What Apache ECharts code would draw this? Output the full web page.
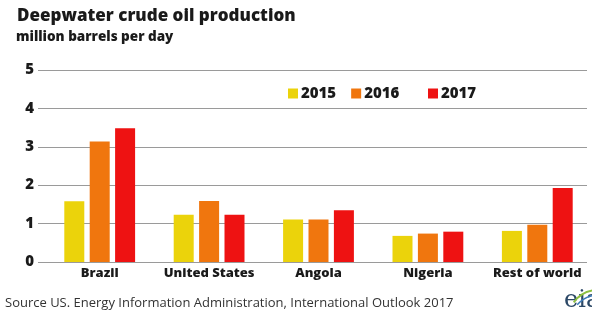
<!DOCTYPE html>
<html><head><meta charset="utf-8">
<script src="https://cdn.jsdelivr.net/npm/echarts@6/dist/echarts.min.js"></script>
<style>html,body{margin:0;padding:0;background:#fff}#c{width:592px;height:320px}</style>
</head><body><div id="c"></div>
<script>
const categories = ['Brazil', 'United States', 'Angola', 'Nigeria', 'Rest of world'];
const years = ['2015', '2016', '2017'];
const values2015 = [1.58, 1.23, 1.11, 0.68, 0.81];
const values2016 = [3.14, 1.59, 1.11, 0.74, 0.97];
const values2017 = [3.48, 1.23, 1.35, 0.79, 1.93];
const yTicks = [0, 1, 2, 3, 4, 5];
const colors = ['#ebd30b', '#f0760e', '#ee1212'];
const FONT = '"Open Sans", Lato, sans-serif';

const chart = echarts.init(document.getElementById('c'), null, {renderer: 'canvas'});
const seriesData = [values2015, values2016, values2017];
const legendText = {fontFamily: FONT, fontWeight: 800, fontSize: 15, color: '#1a1a1a', padding: [0,0,0,-2]};
chart.setOption({
  animation: false,
  backgroundColor: '#fff',
  title: [
    {text: 'Deepwater crude oil production', left: 12, top: 3,
     textStyle: {fontFamily: FONT, fontWeight: 800, fontSize: 17, color: '#1a1a1a'}},
    {text: 'million barrels per day', left: 11, top: 25,
     textStyle: {fontFamily: FONT, fontWeight: 800, fontSize: 13.5, color: '#1a1a1a'}},
    {text: 'Source US. Energy Information Administration, International Outlook 2017', left: 0, top: 292,
     textStyle: {fontFamily: FONT, fontWeight: 'normal', fontSize: 13, color: '#333'}}
  ],
  legend: [
    {data: ['2015', '2016'], left: 283, top: 81, itemWidth: 10, itemHeight: 10, itemGap: 15,
     icon: 'rect', textStyle: legendText},
    {data: ['2017'], left: 423, top: 81, itemWidth: 10, itemHeight: 10,
     icon: 'rect', textStyle: legendText}
  ],
  grid: [
    {left: 38, right: 5, top: 70, bottom: 58},
    {left: 45, right: -3, top: 70, bottom: 58}
  ],
  xAxis: [
    {type: 'category', gridIndex: 0, data: categories, show: false},
    {type: 'category', gridIndex: 1, data: categories,
     axisLine: {show: false}, axisTick: {show: false},
     axisLabel: {fontFamily: FONT, fontWeight: 800, fontSize: 13, color: '#1a1a1a', margin: 5, interval: 0}}
  ],
  yAxis: [
    {type: 'value', gridIndex: 0, min: 0, max: 5, interval: 1,
     axisLine: {show: false}, axisTick: {show: false},
     axisLabel: {fontFamily: FONT, fontWeight: 800, fontSize: 15, color: '#1a1a1a', margin: 4,
       formatter: v => yTicks.includes(v) ? String(v) : ''},
     splitLine: {lineStyle: {color: '#9a9a9a', width: 1.2}}},
    {type: 'value', gridIndex: 1, min: 0, max: 5, interval: 1, show: false, splitLine: {show: false}}
  ],
  series: years.map((y, i) => ({
    name: y, type: 'bar', xAxisIndex: 1, yAxisIndex: 1,
    data: seriesData[i], barWidth: 20, barGap: '27%',
    itemStyle: {color: colors[i]}
  })),
  graphic: [
    {type: 'text', left: 564, top: 289,
     style: {text: 'eia', font: '24px "DejaVu Serif", "Liberation Serif", serif', fill: '#2c4866'}},
    {type: 'arc', shape: {cx: 598, cy: 320, r: 30, startAngle: Math.PI * 1.2, endAngle: Math.PI * 1.45},
     style: {stroke: '#8cbf3f', lineWidth: 2, fill: null}},
    {type: 'arc', shape: {cx: 598, cy: 322, r: 27, startAngle: Math.PI * 1.22, endAngle: Math.PI * 1.45},
     style: {stroke: '#3a7ab8', lineWidth: 1.5, fill: null}}
  ]
});
</script></body></html>
